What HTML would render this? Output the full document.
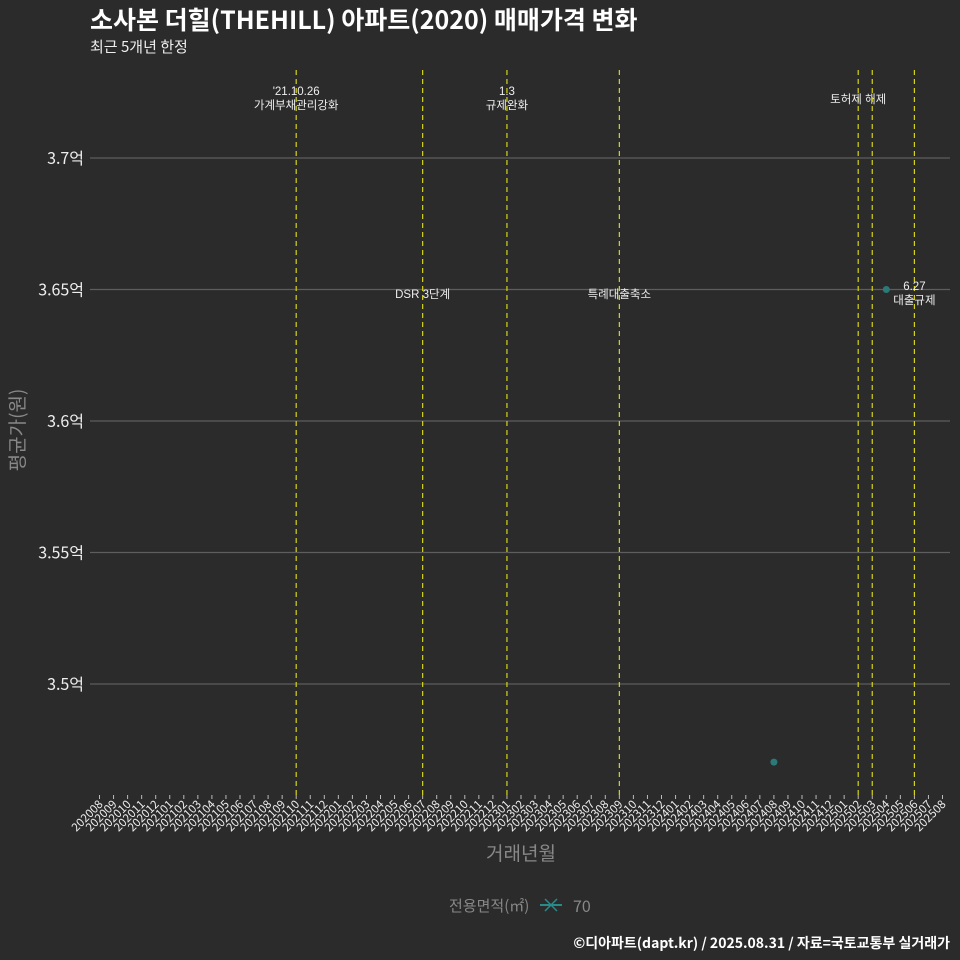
<!DOCTYPE html>
<html><head><meta charset="utf-8"><style>
body{margin:0;background:#2b2b2b;}
svg{display:block;font-family:"Noto Sans CJK KR","Liberation Sans",sans-serif;}
.lib{font-family:"Liberation Sans","Noto Sans CJK KR",sans-serif;}
</style></head><body>
<svg id="c" width="960" height="960" viewBox="0 0 960 960">
<rect width="960" height="960" fill="#2b2b2b"/>
<text x="90" y="29" font-size="25" font-weight="bold" fill="#fff">소사본 더힐(THEHILL) 아파트(2020) 매매가격 변화</text>
<text x="90" y="52" font-size="15" fill="#eee">최근 5개년 한정</text>
<g id="grid"></g><g id="events" class="lib"></g><g id="xticks"></g><g id="marks"></g>
<text transform="translate(24,430) rotate(-90)" text-anchor="middle" font-size="19" fill="#888">평균가(원)</text>
<text x="521" y="860" text-anchor="middle" font-size="19" fill="#888">거래년월</text>
<g>
<text x="449" y="911" font-size="15" fill="#888">전용면적(㎡)</text>
<line x1="540" y1="905" x2="562" y2="905" stroke="#2a8a8a" stroke-width="2"/>
<line x1="545" y1="899" x2="557" y2="911" stroke="#2a8a8a" stroke-width="1.5"/>
<line x1="545" y1="911" x2="557" y2="899" stroke="#2a8a8a" stroke-width="1.5"/>
<text x="573" y="912" font-size="16" fill="#888">70</text>
</g>
<text x="950" y="948" text-anchor="end" font-size="14" font-weight="bold" fill="#fff">©디아파트(dapt.kr) / 2025.08.31 / 자료=국토교통부 실거래가</text>
</svg>
<script>
const months=[];for(let y=2020,m=8;;m++){if(m>12){m=1;y++;}if(y===2025&&m===9)break;months.push(''+y+(m<10?'0':'')+m);}
const yTicks=[3.5,3.55,3.6,3.65,3.7];
const yTickLabels=['3.5억','3.55억','3.6억','3.65억','3.7억'];
const pointMonths=['202408','202504'];
const pointValues=[3.4703,3.65];
const eventMonths=['202110','202207','202301','202309','202502','202503','202506'];
const eventLabels=[["'21.10.26","가계부채관리강화"],["DSR 3단계"],["1.3","규제완화"],["특례대출축소"],["토허제 해제"],[],["6.27","대출규제"]];
const NS='http://www.w3.org/2000/svg';
const X=i=>99.5+i*14.05, xm=m=>X(months.indexOf(m));
const Y=v=>684-(v-3.5)*2630;
function mk(p,t,a){const e=document.createElementNS(NS,t);for(const k in a)e.setAttribute(k,a[k]);document.getElementById(p).appendChild(e);return e;}
yTicks.forEach((v,i)=>{
 const l=mk('grid','line',{x1:90,x2:950,y1:Y(v),y2:Y(v),stroke:'#5e5e5e','stroke-width':1.2});
 
 
 const t=mk('grid','text',{x:84,y:Y(v)+6,'text-anchor':'end','font-size':16,fill:'#eee'});t.textContent=yTickLabels[i];
 
 
});
months.forEach((m,i)=>{
 mk('xticks','line',{x1:X(i),x2:X(i),y1:795,y2:799,stroke:'#bbb'});
 const t=mk('xticks','text',{transform:`translate(${X(i)+4},805) rotate(-45)`,'text-anchor':'end','font-size':11.5,fill:'#eee'});t.textContent=m;
 
 
});
eventMonths.forEach((m,i)=>{
 const x=xm(m);
 const l=mk('events','line',{x1:x,x2:x,y1:70,y2:795,stroke:'#d4d41a','stroke-width':1.2,'stroke-dasharray':'5,4'});
 
 
 const lab=eventLabels[i];if(!lab.length)return;
 let y0=lab.length===2?95:299; if(i===1||i===3)y0=298; if(i===4)y0=103; if(i===6)y0=290;
 lab.forEach((s,j)=>{const t=mk('events','text',{x:x,y:y0+j*14,'text-anchor':'middle','font-size':11.5,fill:'#eee'});t.textContent=s;
  
  });
});
pointMonths.forEach((m,i)=>{
 const c=mk('marks','circle',{cx:xm(m),cy:Y(pointValues[i]),r:3.5,fill:'#2a7a7a'});
 
 
});
</script>
</body></html>
